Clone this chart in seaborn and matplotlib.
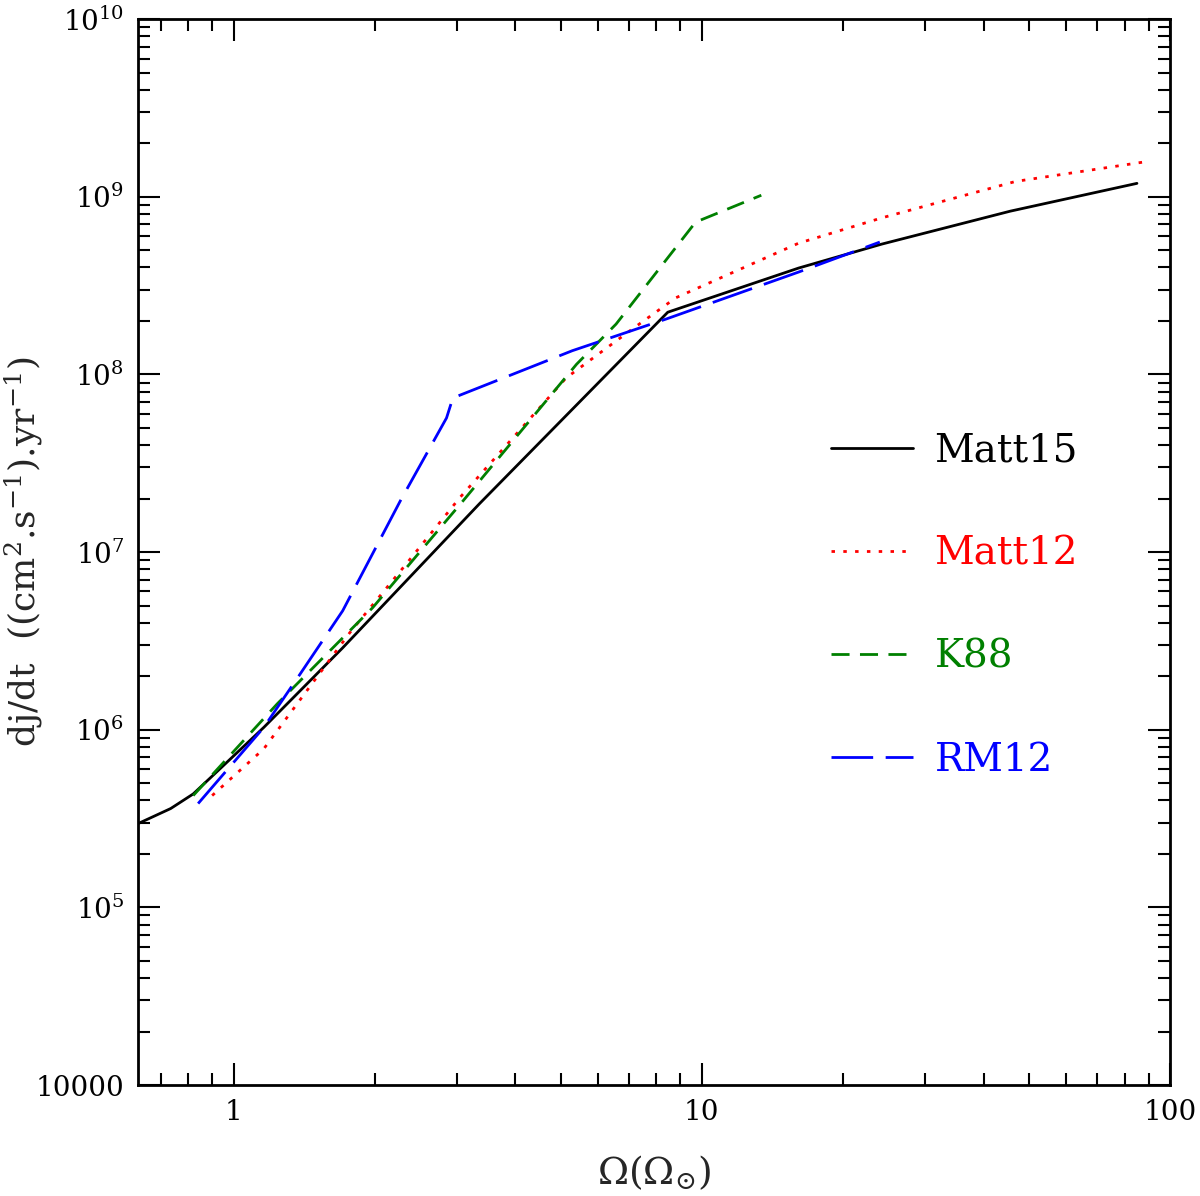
import numpy as np
import pandas as pd
import matplotlib
matplotlib.use("Agg")
import matplotlib.pyplot as plt
import matplotlib.ticker as mticker
import seaborn as sns

# donnees
matt15_x = [0.625, 0.734, 0.82, 0.94, 1.16, 1.71, 3.35, 8.46, 16.1, 24.2, 45.6, 85.0]
matt15_y = [2.96e5, 3.6e5, 4.35e5, 6.1e5, 1.03e6, 2.89e6, 1.87e7, 2.24e8, 3.97e8, 5.41e8, 8.3e8, 1.19e9]

matt12_x = [0.90, 1.16, 1.77, 2.34, 3.04, 5.13, 7.0, 8.8, 16.1, 24.2, 46.8, 88.0]
matt12_y = [4.26e5, 7.8e5, 3.51e6, 8.6e6, 2.02e7, 9.55e7, 1.75e8, 2.7e8, 5.48e8, 7.6e8, 1.22e9, 1.57e9]

k88_x = [0.82, 1.24, 1.98, 3.09, 5.40, 6.56, 9.7, 13.4]
k88_y = [4.26e5, 1.40e6, 4.85e6, 1.94e7, 1.14e8, 1.92e8, 7.2e8, 1.02e9]

rm12_x = [0.84, 1.16, 1.37, 1.71, 2.27, 2.85, 2.94, 5.29, 8.39, 16.1, 24.0]
rm12_y = [3.84e5, 1.03e6, 1.96e6, 4.67e6, 1.94e7, 5.69e7, 7.37e7, 1.36e8, 2.05e8, 3.77e8, 5.56e8]

labels = ["Matt15", "Matt12", "K88", "RM12"]
colors = ["black", "red", "green", "blue"]
styles = ["-", (0, (2.5, 6)), (0, (13, 7.5)), (0, (30, 9))]

xticks = [1, 10, 100]
xticklabels = ["1", "10", "100"]
yticks = [1e4, 1e5, 1e6, 1e7, 1e8, 1e9, 1e10]
yticklabels = ["10000", r"$10^{5}$", r"$10^{6}$", r"$10^{7}$", r"$10^{8}$", r"$10^{9}$", r"$10^{10}$"]

sns.set_style("ticks")
plt.rcParams["font.family"] = ["DejaVu Serif"]
plt.rcParams["mathtext.fontset"] = "dejavuserif"
plt.rcParams["lines.scale_dashes"] = False

fig = plt.figure(figsize=(12, 11.96), dpi=100)
ax = fig.add_axes([0.115, 0.0928, 0.86, 0.8912])

series = [(matt15_x, matt15_y), (matt12_x, matt12_y), (k88_x, k88_y), (rm12_x, rm12_y)]
for (xs, ys), lab, col, ls in zip(series, labels, colors, styles):
    df = pd.DataFrame({"x": xs, "y": ys})
    sns.lineplot(data=df, x="x", y="y", ax=ax, color=col, linestyle=ls,
                 linewidth=2, label=lab, estimator=None)

ax.set_xscale("log")
ax.set_yscale("log")
ax.set_xlim(0.625, 100)
ax.set_ylim(1e4, 1e10)

ax.xaxis.set_major_locator(mticker.FixedLocator(xticks))
ax.xaxis.set_major_formatter(mticker.FixedFormatter(xticklabels))
ax.yaxis.set_major_locator(mticker.FixedLocator(yticks))
ax.yaxis.set_major_formatter(mticker.FixedFormatter(yticklabels))
ax.xaxis.set_minor_locator(mticker.LogLocator(base=10, subs=np.arange(2, 10)))
ax.yaxis.set_minor_locator(mticker.LogLocator(base=10, subs=np.arange(2, 10)))
ax.xaxis.set_minor_formatter(mticker.NullFormatter())
ax.yaxis.set_minor_formatter(mticker.NullFormatter())

ax.tick_params(which="both", direction="in", top=True, right=True, width=1.5, labelsize=20, colors="black")
ax.tick_params(which="major", length=16, pad=10)
ax.tick_params(which="minor", length=8.5)
for sp in ax.spines.values():
    sp.set_linewidth(2)
    sp.set_color("black")

ax.set_xlabel(r"$\Omega(\Omega_{\odot})$", fontsize=27)
ax.xaxis.set_label_coords(0.5, -0.064)
ax.set_ylabel(r"dj/dt  ((cm$^2$.s$^{-1}$).yr$^{-1}$)", fontsize=26)
ax.yaxis.set_label_coords(-0.09, 0.5)

leg = ax.legend(loc="upper left", bbox_to_anchor=(0.638, 0.645), frameon=False,
                fontsize=28, handlelength=2.1, handletextpad=0.55, labelspacing=1.7,
                labelcolor="linecolor")

fig.savefig("out.png", dpi=100)
